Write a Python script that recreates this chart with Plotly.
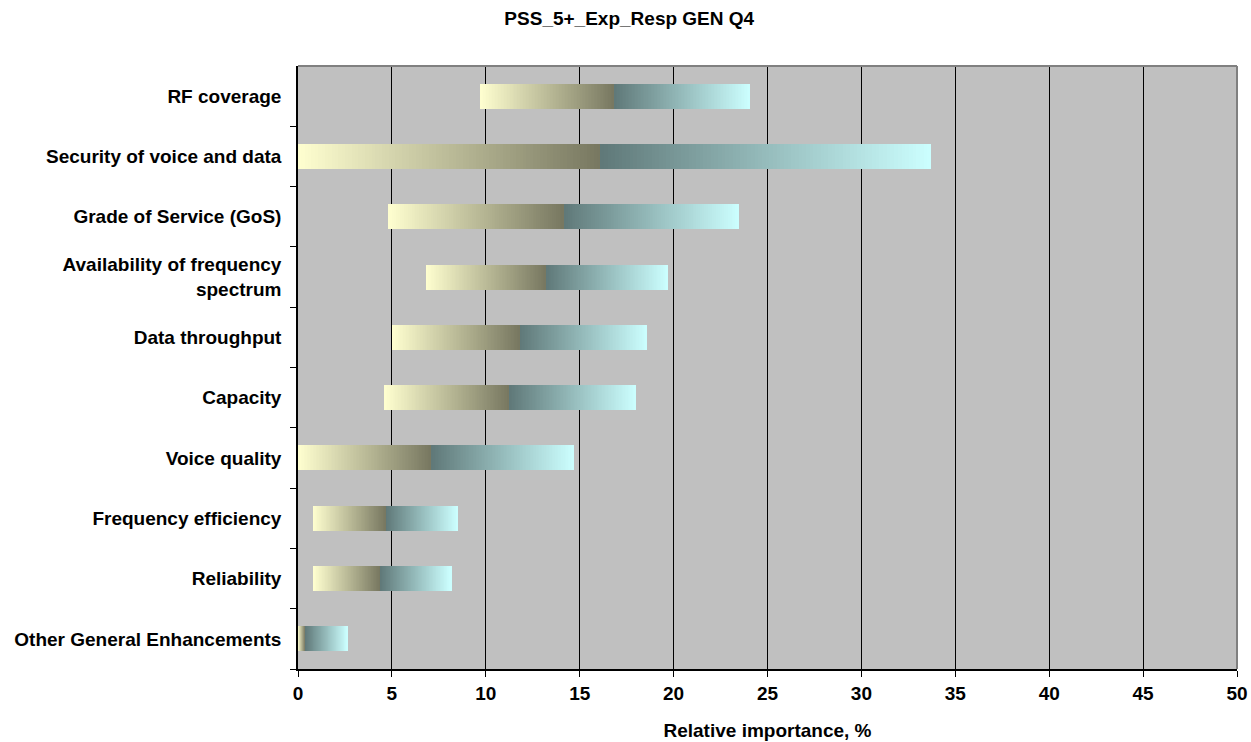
import plotly.graph_objects as go

categories = ["RF coverage", "Security of voice and data", "Grade of Service (GoS)",
              "Availability of frequency<br>spectrum", "Data throughput", "Capacity",
              "Voice quality", "Frequency efficiency", "Reliability",
              "Other General Enhancements"]
low_vals = [9.7, 0.0, 4.8, 6.8, 5.0, 4.6, 0.0, 0.8, 0.85, 0.0]
mid_vals = [16.85, 16.1, 14.15, 13.2, 11.8, 11.25, 7.1, 4.7, 4.4, 0.4]
high_vals = [24.05, 33.7, 23.5, 19.7, 18.6, 18.0, 14.7, 8.5, 8.15, 2.65]

x_ticks = [0, 5, 10, 15, 20, 25, 30, 35, 40, 45, 50]

N = 90
left_start, left_end = (255, 255, 208), (119, 119, 96)
right_start, right_end = (95, 120, 120), (204, 255, 255)


def lerp(c1, c2, t):
    return "rgb(%d,%d,%d)" % tuple(round(a + (b - a) * t) for a, b in zip(c1, c2))


fig = go.Figure()


def add_gradient(starts, ends, c1, c2):
    ys, xs, bases, cols = [], [], [], []
    for cat, s, e in zip(categories, starts, ends):
        w = (e - s) / N
        if w <= 0:
            continue
        for i in range(N):
            ys.append(cat)
            xs.append(w * (1.6 if i < N - 1 else 1.0))
            bases.append(s + i * w)
            cols.append(lerp(c1, c2, (i + 0.5) / N))
    fig.add_trace(go.Bar(y=ys, x=xs, base=bases, orientation="h",
                         marker=dict(color=cols, line=dict(width=0)),
                         width=0.415, showlegend=False, hoverinfo="skip"))


add_gradient(low_vals, mid_vals, left_start, left_end)
add_gradient(mid_vals, high_vals, right_start, right_end)

fig.update_layout(
    width=1251, height=742,
    margin=dict(l=298, r=14, t=66, b=73, autoexpand=False),
    paper_bgcolor="white", plot_bgcolor="#C0C0C0",
    barmode="overlay", bargap=0,
    font=dict(family="Liberation Sans, Arial", size=19, color="black"),
    title=dict(text="<b>PSS_5+_Exp_Resp GEN Q4</b>", x=0.503, xanchor="center",
               xref="container", y=0.975, yref="container", yanchor="middle",
               font=dict(size=19)),
    xaxis=dict(range=[0, 50], tickvals=x_ticks,
               ticktext=["<b>%d</b>" % v for v in x_ticks],
               showgrid=True, gridcolor="black", gridwidth=1.3,
               zeroline=False, showline=True, linecolor="black", linewidth=1.5,
               ticks="outside", ticklen=6, tickcolor="black",
               automargin=False, tickfont=dict(size=19),
               title=dict(text="<b>Relative importance, %</b>", standoff=21,
                          font=dict(size=19))),
    yaxis=dict(categoryorder="array", categoryarray=categories[::-1],
               tickvals=categories,
               ticktext=["<b>%s</b>" % c for c in categories],
               showgrid=False, zeroline=False, showline=True,
               linecolor="black", linewidth=1.5, automargin=False,
               ticks="outside", tickson="boundaries", ticklen=6,
               tickcolor="black", ticklabelstandoff=11,
               tickfont=dict(size=19)),
    shapes=[dict(type="line", xref="paper", yref="paper", x0=0, x1=1, y0=1, y1=1,
                 line=dict(color="#808080", width=2)),
            dict(type="line", xref="paper", yref="paper", x0=1, x1=1, y0=0, y1=1,
                 line=dict(color="#808080", width=2))],
)

fig.write_html("out.html", config={"displayModeBar": False},
               post_script="document.body.style.margin='0px';document.body.style.overflow='hidden';")
